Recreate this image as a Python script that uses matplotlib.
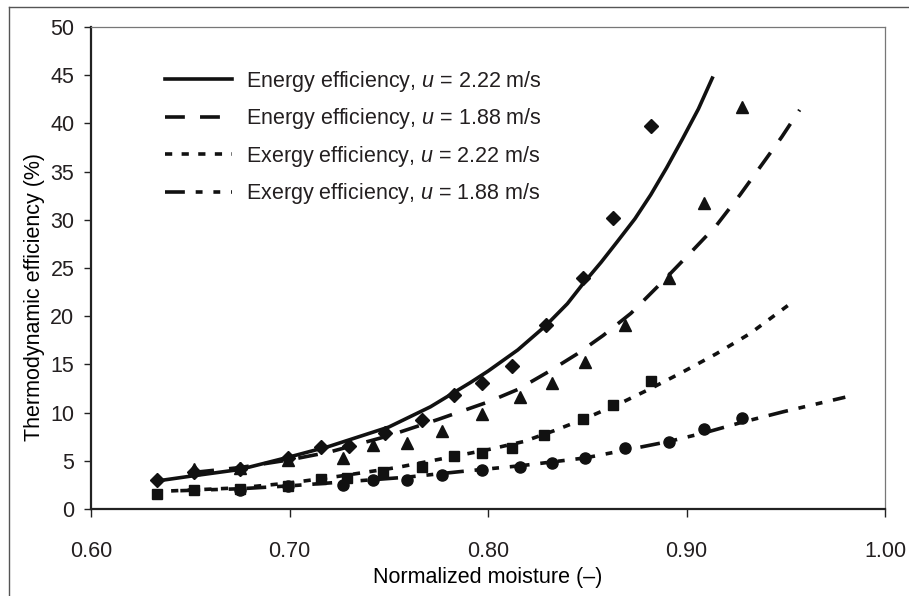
import matplotlib
matplotlib.use('Agg')
import matplotlib.pyplot as plt
from matplotlib.lines import Line2D

plt.rcParams.update({
    'font.family': 'Liberation Sans',
    'font.size': 15.5,
    'mathtext.fontset': 'custom',
    'mathtext.rm': 'Liberation Sans',
    'mathtext.it': 'Liberation Sans:italic',
    'text.color': '#231f20',
})

# measured points (markers)
en222_x = [0.633, 0.652, 0.675, 0.699, 0.716, 0.730, 0.748, 0.767, 0.783, 0.797,
           0.812, 0.829, 0.848, 0.863, 0.882]
en222_y = [3.0, 3.8, 4.2, 5.3, 6.4, 6.5, 7.9, 9.2, 11.8, 13.1,
           14.8, 19.1, 24.0, 30.2, 39.7]
en188_x = [0.652, 0.675, 0.699, 0.727, 0.742, 0.759, 0.777, 0.797, 0.816, 0.832,
           0.849, 0.869, 0.891, 0.909, 0.928]
en188_y = [4.2, 4.3, 5.1, 5.3, 6.6, 6.8, 8.1, 9.9, 11.6, 13.1,
           15.2, 19.1, 24.0, 31.7, 41.7]
ex222_x = [0.633, 0.652, 0.675, 0.699, 0.716, 0.729, 0.747, 0.767, 0.783, 0.797,
           0.812, 0.828, 0.848, 0.863, 0.882]
ex222_y = [1.6, 2.0, 2.1, 2.4, 3.1, 3.2, 3.8, 4.4, 5.5, 5.8,
           6.3, 7.7, 9.3, 10.8, 13.3]
ex188_x = [0.675, 0.699, 0.727, 0.742, 0.759, 0.777, 0.797, 0.816, 0.832, 0.849,
           0.869, 0.891, 0.909, 0.928]
ex188_y = [2.0, 2.4, 2.5, 3.0, 3.0, 3.5, 4.0, 4.4, 4.8, 5.3,
           6.3, 7.0, 8.3, 9.4]

# fitted curves
fit_en222_x = [0.633, 0.65, 0.675, 0.70, 0.72, 0.75, 0.771, 0.791, 0.80, 0.815,
               0.829, 0.84, 0.848, 0.857, 0.865, 0.874, 0.882, 0.89, 0.898, 0.906, 0.913]
fit_en222_y = [2.9, 3.4, 4.1, 5.4, 6.5, 8.5, 10.6, 13.1, 14.3, 16.5,
               19.0, 21.3, 23.4, 25.6, 27.7, 30.1, 32.6, 35.4, 38.4, 41.5, 44.7]
fit_en188_x = [0.652, 0.675, 0.70, 0.72, 0.75, 0.775, 0.80, 0.815, 0.831, 0.845,
               0.858, 0.872, 0.888, 0.903, 0.915, 0.927, 0.94, 0.948, 0.957]
fit_en188_y = [3.8, 4.3, 5.1, 5.9, 7.6, 9.3, 11.1, 12.4, 14.3, 16.1,
               18.0, 20.3, 23.6, 26.8, 29.4, 32.6, 36.3, 38.6, 41.4]
fit_ex222_x = [0.632, 0.675, 0.70, 0.725, 0.754, 0.779, 0.801, 0.818, 0.833, 0.848,
               0.868, 0.882, 0.898, 0.915, 0.932, 0.951]
fit_ex222_y = [1.8, 2.2, 2.7, 3.4, 4.3, 5.3, 6.2, 7.0, 8.1, 9.3,
               11.1, 12.5, 14.2, 16.1, 18.2, 21.1]
fit_ex188_x = [0.645, 0.675, 0.70, 0.72, 0.759, 0.787, 0.817, 0.849, 0.869, 0.891,
               0.909, 0.928, 0.949, 0.980]
fit_ex188_y = [1.9, 2.1, 2.4, 2.7, 3.3, 3.9, 4.5, 5.3, 6.1, 7.0,
               7.9, 9.0, 10.1, 11.6]

labels = ['Energy efficiency, $u$ = 2.22 m/s',
          'Energy efficiency, $u$ = 1.88 m/s',
          'Exergy efficiency, $u$ = 2.22 m/s',
          'Exergy efficiency, $u$ = 1.88 m/s']

W, H = 909, 596
fig = plt.figure(figsize=(W / 100, H / 100), dpi=100)
ax = fig.add_axes([91 / W, 1 - 509 / H, (885 - 91) / W, (509 - 27) / H])

K = '#111111'
lw = 2.6
ax.plot(fit_en222_x, fit_en222_y, color=K, lw=lw, ls='-', label=labels[0], zorder=2)
ax.plot(fit_en188_x, fit_en188_y, color=K, lw=lw, ls=(0, (5.5, 4.2)), label=labels[1], zorder=2)
ax.plot(fit_ex222_x, fit_ex222_y, color=K, lw=lw, ls=(0, (2.0, 2.6)), label=labels[2], zorder=2)
ax.plot(fit_ex188_x, fit_ex188_y, color=K, lw=lw,
        ls=(0, (5.5, 3.0, 1.9, 3.0, 1.9, 3.0)), label=labels[3], zorder=2)

ax.plot(en222_x, en222_y, 'D', color=K, ms=7, lw=0, zorder=3)
ax.plot(en188_x, en188_y, '^', color=K, ms=9, lw=0, zorder=3)
ax.plot(ex222_x, ex222_y, 's', color=K, ms=7.5, lw=0, zorder=3)
ax.plot(ex188_x, ex188_y, 'o', color=K, ms=8, lw=0, zorder=3)

ax.set_xlim(0.60, 1.00)
ax.set_ylim(0, 50)
ax.set_xticks([0.60, 0.70, 0.80, 0.90, 1.00])
ax.set_xticklabels(['0.60', '0.70', '0.80', '0.90', '1.00'])
ax.set_yticks(range(0, 51, 5))

for s in ['left', 'bottom']:
    ax.spines[s].set_color('#222222')
    ax.spines[s].set_linewidth(1.6)
for s in ['top', 'right']:
    ax.spines[s].set_color('#777777')
    ax.spines[s].set_linewidth(0.9)
ax.tick_params(axis='y', direction='out', length=5, width=1, pad=7, colors='#222222')
ax.tick_params(axis='x', direction='out', length=6, width=1, pad=17, colors='#222222')
for t in ax.get_xticklabels() + ax.get_yticklabels():
    t.set_color('#231f20')

ax.set_xlabel('Normalized moisture (\u2013)')
ax.xaxis.set_label_coords(0.5, -0.12)
ax.set_ylabel('Thermodynamic efficiency (%)')
ax.yaxis.set_label_coords(-0.058, 0.44)

ax.legend(loc='upper left', bbox_to_anchor=(165 / W, 1 - 69 / H),
          bbox_transform=fig.transFigure, frameon=False, borderpad=0,
          borderaxespad=0, handlelength=3.1, handletextpad=0.65,
          labelspacing=0.58, fontsize=15.5)

# outer frame of the original figure
fig.add_artist(Line2D([9 / W, 9 / W], [0, 1 - 7 / H], color='#555555', lw=1,
                      transform=fig.transFigure))
fig.add_artist(Line2D([9 / W, 1], [1 - 7 / H, 1 - 7 / H], color='#555555', lw=1,
                      transform=fig.transFigure))

fig.savefig('out.png', dpi=100)
